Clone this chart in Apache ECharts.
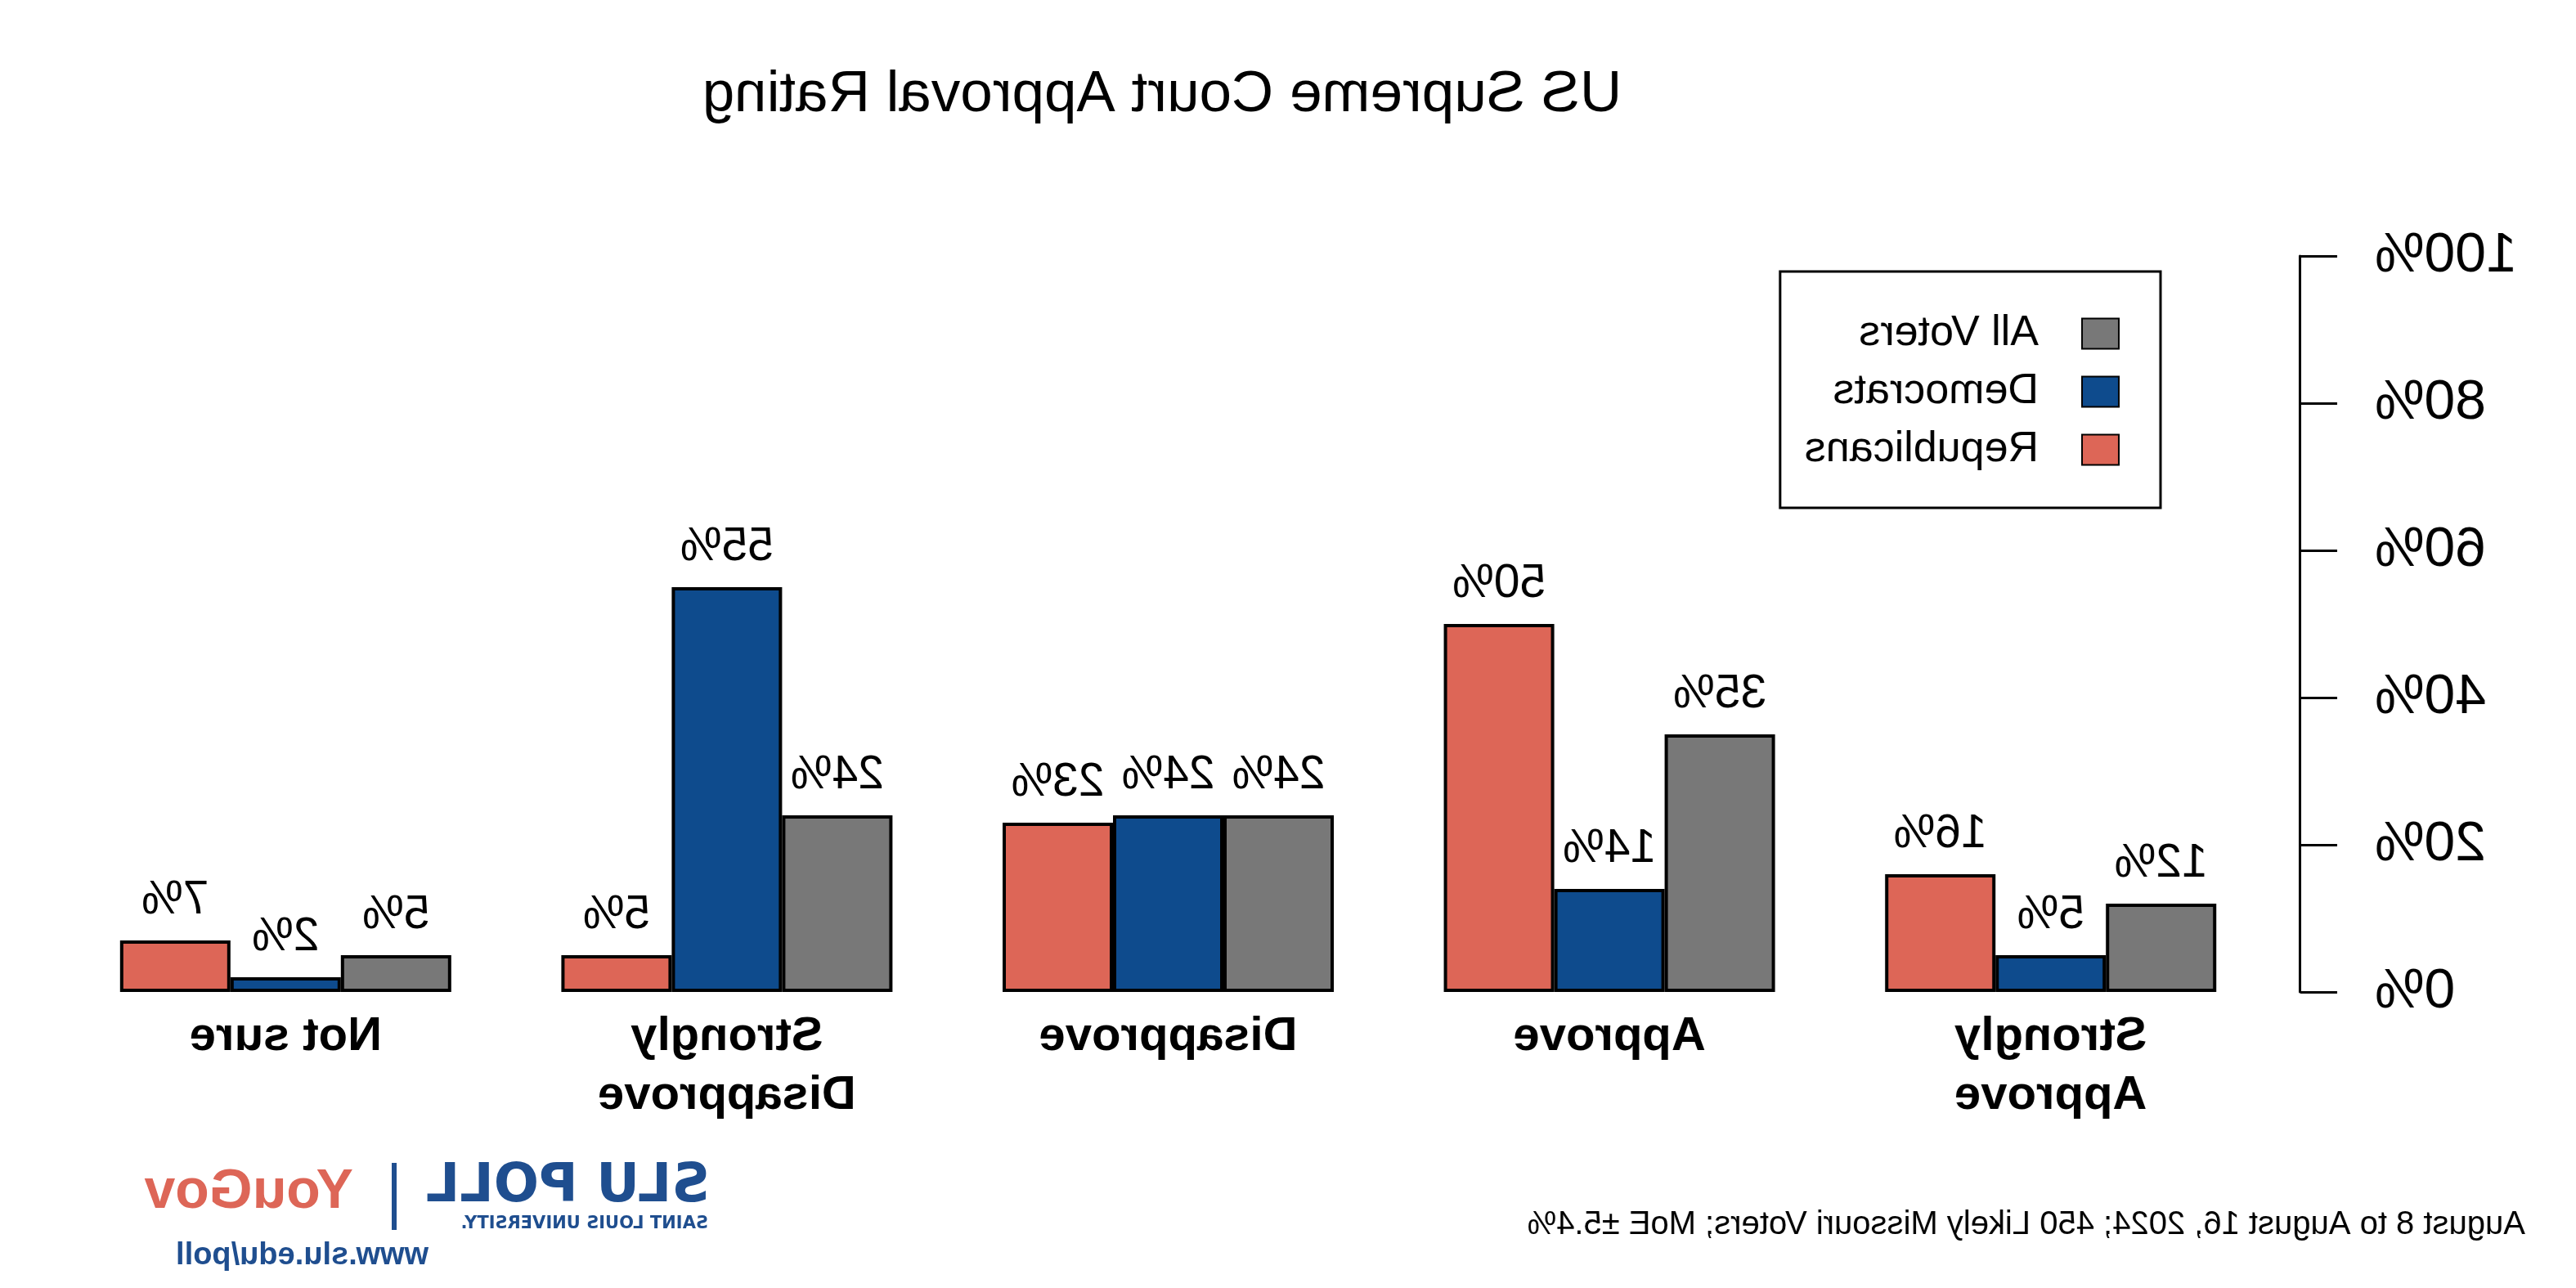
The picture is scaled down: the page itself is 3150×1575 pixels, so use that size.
<!DOCTYPE html>
<html>
<head>
<meta charset="utf-8">
<script src="https://cdn.jsdelivr.net/npm/echarts@6/dist/echarts.min.js"></script>
<style>
  html, body { margin: 0; padding: 0; background: #fff; }
  #chart { width: 3150px; height: 1575px; transform: scaleX(-1); transform-origin: center; }
</style>
</head>
<body>
<div id="chart"></div>
<script>
// ---- data ----
const categories = ['Strongly\nApprove', 'Approve', 'Disapprove', 'Strongly\nDisapprove', 'Not sure'];
const seriesNames = ['All Voters', 'Democrats', 'Republicans'];
const allVoters   = [12, 35, 24, 24, 5];
const democrats   = [5, 14, 24, 55, 2];
const republicans = [16, 50, 23, 5, 7];
const yTicks = [0, 20, 40, 60, 80, 100];
const titleText = 'US Supreme Court Approval Rating';
const footerText = 'August 8 to August 16, 2024; 450 Likely Missouri Voters; MoE \u00b15.4%';

const colors = ['#787878', '#0e4b8d', '#dd6657'];
const SANS = "'Liberation Sans', Arial, sans-serif";

const chart = echarts.init(document.getElementById('chart'), null, { renderer: 'canvas' });

function barSeries(name, data, color) {
  return {
    name: name, type: 'bar', data: data,
    barWidth: 135, barGap: '0%',
    itemStyle: { color: color, borderColor: '#000', borderWidth: 4 },
    label: {
      show: true, position: 'top', distance: 20,
      formatter: '{c}%', color: '#000',
      fontFamily: SANS, fontSize: 57
    }
  };
}

const option = {
  animation: false,
  backgroundColor: '#fff',
  title: {
    text: titleText,
    left: 1724, top: 76, textAlign: 'center',
    textStyle: { fontFamily: SANS, fontSize: 71, fontWeight: 'normal', color: '#000' }
  },
  legend: {
    orient: 'vertical',
    left: 508, top: 332,
    data: seriesNames,
    itemWidth: 45, itemHeight: 37, itemGap: 19,
    borderColor: '#000', borderWidth: 3, borderRadius: 0,
    padding: [50, 30, 45, 50],
    icon: 'rect',
    textStyle: { fontFamily: SANS, fontSize: 52, color: '#000', lineHeight: 40, padding: [0, 0, 0, 48] }
  },
  grid: { left: 372.5, right: 79.5, top: 313, bottom: 362, containLabel: false },
  xAxis: {
    type: 'category', data: categories,
    axisLine: { show: false }, axisTick: { show: false },
    axisLabel: { fontFamily: SANS, fontWeight: 'bold', fontSize: 58, lineHeight: 72, color: '#000', margin: 19, interval: 0 }
  },
  yAxis: {
    type: 'value', min: yTicks[0], max: yTicks[yTicks.length - 1], interval: 20,
    position: 'left', offset: 35.5,
    axisLine: { show: true, lineStyle: { color: '#000', width: 3 } },
    axisTick: { show: true, length: 45, lineStyle: { color: '#000', width: 3 } },
    splitLine: { show: false },
    axisLabel: { formatter: '{value}%', fontFamily: SANS, fontSize: 68, color: '#000', margin: 91 }
  },
  series: [
    barSeries(seriesNames[0], allVoters, colors[0]),
    barSeries(seriesNames[1], democrats, colors[1]),
    barSeries(seriesNames[2], republicans, colors[2])
  ],
  graphic: [
    { type: 'text', left: 62, top: 1478,
      style: { text: footerText, font: "40px 'Liberation Sans', Arial, sans-serif", fill: '#000' } },
    { type: 'text', left: 2282, top: 1420,
      style: { text: 'SLU POLL', font: "bold 65px 'DejaVu Sans', sans-serif", fill: '#1f4e8f' } },
    { type: 'text', left: 2284, top: 1486,
      style: { text: 'SAINT LOUIS UNIVERSITY.', font: "bold 21px 'DejaVu Sans', sans-serif", fill: '#1f4e8f' } },
    { type: 'rect', shape: { x: 2665, y: 1422, width: 6, height: 82 }, style: { fill: '#1f4e8f' } },
    { type: 'text', left: 2718, top: 1424,
      style: { text: 'YouGov', font: "bold 68px 'Liberation Sans', sans-serif", fill: '#dd6657' } },
    { type: 'text', left: 2626, top: 1517,
      style: { text: 'www.slu.edu/poll', font: "bold 38px 'Liberation Sans', sans-serif", fill: '#1f4e8f' } }
  ]
};
chart.setOption(option);
</script>
</body>
</html>
